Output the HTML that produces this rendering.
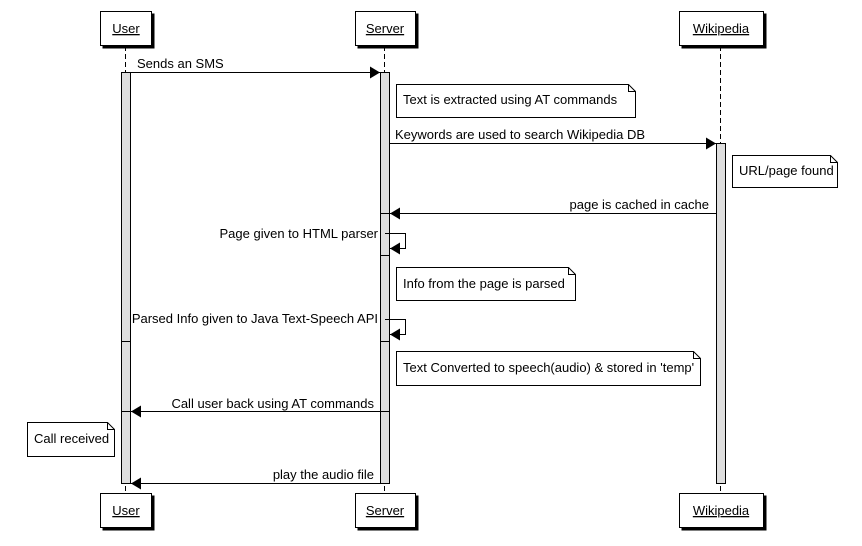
<!DOCTYPE html>
<html><head><meta charset="utf-8"><style>
html,body{margin:0;padding:0;background:#fff}
svg{display:block;font-family:"Liberation Sans",sans-serif;font-size:13px}
</style></head><body>
<svg width="862" height="546" viewBox="0 0 862 546" xmlns="http://www.w3.org/2000/svg">
<defs>
<marker id="ah" markerWidth="10" markerHeight="12" refX="10" refY="6" orient="auto" markerUnits="userSpaceOnUse">
<path d="M0,0 L10,6 L0,12 z" fill="#000"/></marker>
</defs>
<g stroke="#000" stroke-dasharray="5,3" fill="none">
<line x1="125.5" y1="46" x2="125.5" y2="493"/>
<line x1="384.5" y1="46" x2="384.5" y2="493"/>
<line x1="720.5" y1="46" x2="720.5" y2="493"/>
</g>
<g stroke="#000" fill="#fff">
<rect x="103" y="14" width="51" height="34" fill="#000"/>
<rect x="100.5" y="11.5" width="51" height="34"/>
<rect x="358" y="14" width="60" height="34" fill="#000"/>
<rect x="355.5" y="11.5" width="60" height="34"/>
<rect x="682" y="14" width="84" height="34" fill="#000"/>
<rect x="679.5" y="11.5" width="84" height="34"/>
<rect x="103" y="496" width="51" height="34" fill="#000"/>
<rect x="100.5" y="493.5" width="51" height="34"/>
<rect x="358" y="496" width="60" height="34" fill="#000"/>
<rect x="355.5" y="493.5" width="60" height="34"/>
<rect x="682" y="496" width="84" height="34" fill="#000"/>
<rect x="679.5" y="493.5" width="84" height="34"/>
</g>
<g text-anchor="middle" text-decoration="underline">
<text x="126" y="33">User</text><text x="385" y="33">Server</text><text x="721" y="33">Wikipedia</text>
<text x="126" y="515">User</text><text x="385" y="515">Server</text><text x="721" y="515">Wikipedia</text>
</g>
<g stroke="#000" fill="#dedede">
<rect x="121.5" y="72.5" width="9" height="411"/>
<rect x="380.5" y="72.5" width="9" height="411"/>
<rect x="716.5" y="143.5" width="9" height="340"/>
</g>
<g stroke="#000">
<line x1="380" y1="213.5" x2="390" y2="213.5"/>
<line x1="380" y1="255.5" x2="390" y2="255.5"/>
<line x1="380" y1="341.5" x2="390" y2="341.5"/>
<line x1="121" y1="341.5" x2="131" y2="341.5"/>
<line x1="121" y1="411.5" x2="131" y2="411.5"/>
</g>
<g stroke="#000" fill="none">
<line x1="131" y1="72.5" x2="380" y2="72.5" marker-end="url(#ah)"/>
<line x1="390" y1="143.5" x2="716" y2="143.5" marker-end="url(#ah)"/>
<line x1="716" y1="213.5" x2="390" y2="213.5" marker-end="url(#ah)"/>
<polyline points="385,233.5 405.5,233.5 405.5,248.5 390,248.5" marker-end="url(#ah)"/>
<polyline points="385,319.5 405.5,319.5 405.5,334.5 390,334.5" marker-end="url(#ah)"/>
<line x1="390" y1="411.5" x2="131" y2="411.5" marker-end="url(#ah)"/>
<line x1="380" y1="483.5" x2="131" y2="483.5" marker-end="url(#ah)"/>
</g>
<text x="137" y="68">Sends an SMS</text>
<text x="395" y="139">Keywords are used to search Wikipedia DB</text>
<g text-anchor="end">
<text x="709" y="209">page is cached in cache</text>
<text x="378" y="238">Page given to HTML parser</text>
<text x="378" y="323">Parsed Info given to Java Text-Speech API</text>
<text x="374" y="408">Call user back using AT commands</text>
<text x="374" y="479">play the audio file</text>
</g>
<g stroke="#000" fill="#fff">
<path d="M396.5,84.5 H628.5 L635.5,91.5 V117.5 H396.5 Z"/><path d="M628.5,84.5 V91.5 H635.5" fill="none"/>
<path d="M732.5,155.5 H830.5 L837.5,162.5 V187.5 H732.5 Z"/><path d="M830.5,155.5 V162.5 H837.5" fill="none"/>
<path d="M396.5,267.5 H568.5 L575.5,274.5 V300.5 H396.5 Z"/><path d="M568.5,267.5 V274.5 H575.5" fill="none"/>
<path d="M396.5,351.5 H693.5 L700.5,358.5 V385.5 H396.5 Z"/><path d="M693.5,351.5 V358.5 H700.5" fill="none"/>
<path d="M27.5,422.5 H107.5 L114.5,429.5 V456.5 H27.5 Z"/><path d="M107.5,422.5 V429.5 H114.5" fill="none"/>
</g>
<text x="403" y="104">Text is extracted using AT commands</text>
<text x="739" y="175">URL/page found</text>
<text x="403" y="288">Info from the page is parsed</text>
<text x="403" y="372">Text Converted to speech(audio) &amp; stored in 'temp'</text>
<text x="34" y="443">Call received</text>
</svg>
</body></html>
